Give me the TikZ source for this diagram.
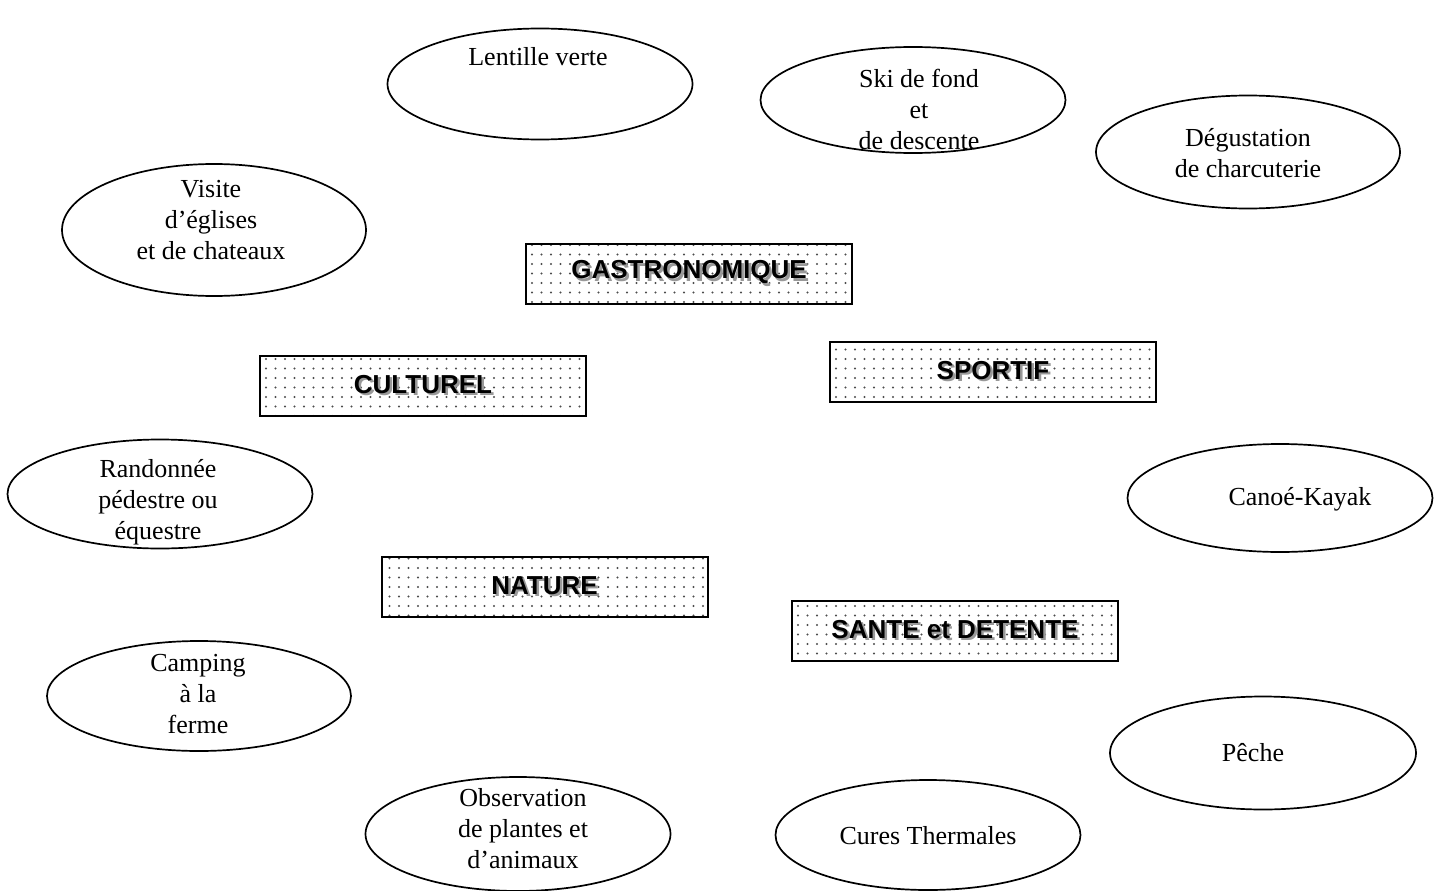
\documentclass[tikz,border=0pt]{standalone}
\usepackage{fontspec}
\setmainfont{Liberation Serif}
\setsansfont{Liberation Sans}
\usetikzlibrary{shapes.geometric,patterns.meta}
\newcommand\shadowed[1]{\leavevmode\rlap{\kern2.5pt\raisebox{-2.5pt}{\color{black!40}#1}}#1}
\tikzset{
  oval/.style={draw=black, line width=1.7pt, ellipse, inner sep=0pt},
  lbl/.style={align=center, font=\fontsize{26}{31}\selectfont, inner sep=0pt},
  catbox/.style={draw=black, line width=2pt, minimum width=326pt, minimum height=60pt,
    inner sep=0pt, font=\sffamily\bfseries\fontsize{26}{30}\selectfont,
    pattern={Dots[distance=9.5pt, radius=1.1pt]}, pattern color=black!70},
}
\begin{document}
\begin{tikzpicture}[x=1pt,y=-1pt]
\useasboundingbox[fill=white] (0,0) rectangle (1443,891);
% ellipses
\node[oval, minimum width=305pt, minimum height=111pt] (e1) at (540,84) {};
\node[lbl] (t1) at (538,57) {Lentille verte};
\node[oval, minimum width=305pt, minimum height=106pt] (e2) at (913,100) {};
\node[lbl] (t2) at (919,109) {Ski de fond\\et\\de descente};
\node[oval, minimum width=304pt, minimum height=113pt] (e3) at (1248,152) {};
\node[lbl] (t3) at (1248,153) {Dégustation\\de charcuterie};
\node[oval, minimum width=304pt, minimum height=132pt] (e4) at (214,230) {};
\node[lbl] (t4) at (211,220) {Visite\\d’églises\\et de chateaux};
\node[oval, minimum width=305pt, minimum height=109pt] (e5) at (160,494) {};
\node[lbl] (t5) at (158,502) {Randonnée\\pédestre ou\\équestre};
\node[oval, minimum width=305pt, minimum height=108pt] (e6) at (1280,498) {};
\node[lbl] (t6) at (1300,499) {Canoé-Kayak};
\node[oval, minimum width=304pt, minimum height=110pt] (e7) at (199,696) {};
\node[lbl] (t7) at (198,694) {Camping\\à la\\ferme};
\node[oval, minimum width=306pt, minimum height=113pt] (e8) at (1263,753) {};
\node[lbl] (t8) at (1253,753) {Pêche};
\node[oval, minimum width=305pt, minimum height=114pt] (e9) at (518,834) {};
\node[lbl] (t9) at (523,829) {Observation\\de plantes et\\d’animaux};
\node[oval, minimum width=305pt, minimum height=110pt] (e10) at (928,835) {};
\node[lbl] (t10) at (928,836) {Cures Thermales};
% category boxes
\node[catbox] (b1) at (689,273.5) {\shadowed{GASTRONOMIQUE}};
\node[catbox] (b2) at (423,385.5) {\shadowed{CULTUREL}};
\node[catbox] (b3) at (993,371.5) {\shadowed{SPORTIF}};
\node[catbox] (b4) at (544.5,586.5) {\shadowed{NATURE}};
\node[catbox] (b5) at (955,630.5) {\shadowed{SANTE et DETENTE}};
\end{tikzpicture}
\end{document}
